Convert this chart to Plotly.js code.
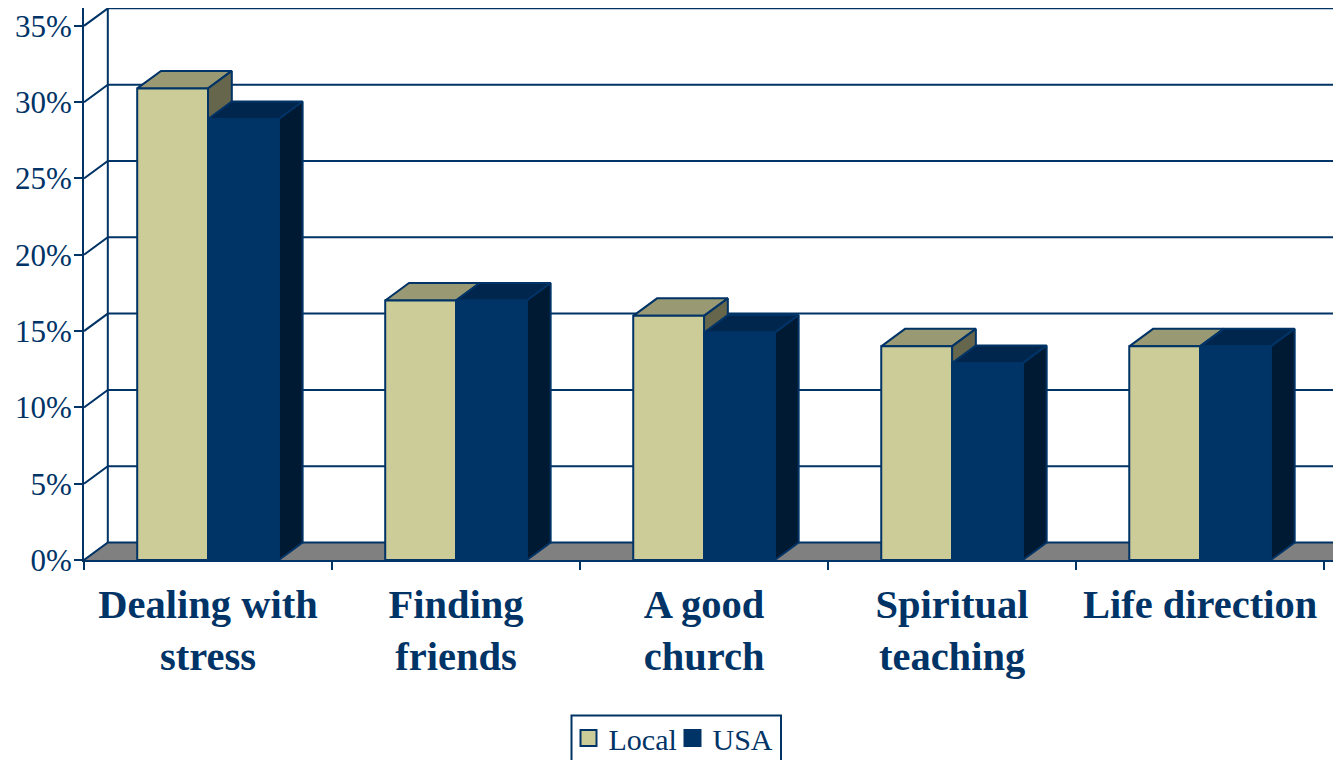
<!DOCTYPE html>
<html>
<head>
<meta charset="utf-8">
<script src="https://cdn.plot.ly/plotly-3.0.1.min.js"></script>
<style>html,body{margin:0;padding:0;background:#fff;overflow:hidden}</style>
</head>
<body>
<div id="chart" style="width:1333px;height:760px"></div>
<script>
var categories = ["Dealing with<br>stress", "Finding<br>friends", "A good<br>church", "Spiritual<br>teaching", "Life direction"];
var local = [30.9, 17, 16, 14, 14];
var usa = [28.9, 17, 14.9, 12.9, 14];
var yTicks = [0, 5, 10, 15, 20, 25, 30, 35];
var yLabels = ["0%", "5%", "10%", "15%", "20%", "25%", "30%", "35%"];

var INK = "#003366";
var barW = 0.2855, dx = 0.096, dy = 1.147;
var xMin = -0.5, xMax = 4.536, yMax = 36.17;
var plotLeft = 84, plotW = 1249, plotTop = 8, plotH = 552;
function paperX(px) { return (px - plotLeft) / plotW; }
function paperY(px) { return (plotTop + plotH - px) / plotH; }
var indices = categories.map(function (_, i) { return i; });
var boundaries = categories.map(function (_, i) { return i - 0.5; }).concat([categories.length - 0.5]);

function poly(pointsFor, values) {
  var x = [], y = [];
  values.forEach(function (v, i) {
    pointsFor(v, i).forEach(function (p) { x.push(p[0]); y.push(p[1]); });
    x.push(null); y.push(null);
  });
  return { x: x, y: y };
}
function topFace(offset) {
  return function (v, i) {
    var a = i + offset, b = a + barW;
    return [[a, v], [a + dx, v + dy], [b + dx, v + dy], [b, v], [a, v]];
  };
}
function sideFace(offset) {
  return function (v, i) {
    var b = i + offset + barW;
    return [[b, 0], [b + dx, dy], [b + dx, v + dy], [b, v], [b, 0]];
  };
}
function filled(shape, fill) {
  return { type: "scatter", mode: "lines", x: shape.x, y: shape.y, fill: "toself", fillcolor: fill,
    line: { color: INK, width: 2 }, showlegend: false, hoverinfo: "skip" };
}

var wallX = [], wallY = [];
yTicks.forEach(function (t) {
  wallX.push(xMin, xMin + dx, xMax + 1, null);
  wallY.push(t, t + dy, t + dy, null);
});
wallX.push(xMin + dx, xMin + dx);
wallY.push(dy, yTicks[yTicks.length - 1] + dy);

var traces = [
  { type: "scatter", mode: "lines", x: [xMin, xMin + dx, xMax + 1, xMax + 1, xMin], y: [0, dy, dy, 0, 0],
    fill: "toself", fillcolor: "#808080", line: { width: 0 }, showlegend: false, hoverinfo: "skip" },
  { type: "scatter", mode: "lines", x: wallX, y: wallY, line: { color: INK, width: 2 }, showlegend: false, hoverinfo: "skip" },
  filled(poly(topFace(-barW), local), "#999973"),
  filled(poly(sideFace(-barW), local), "#66664D"),
  filled(poly(topFace(0), usa), "#00264D"),
  filled(poly(sideFace(0), usa), "#001A33"),
  { type: "scatter", mode: "markers", name: "Local", x: indices.map(function (i) { return i - barW / 2; }),
    y: local.map(function (v) { return v / 2; }), marker: { symbol: "square", size: 16, color: "#CCCC99", line: { color: INK, width: 2 } }, hoverinfo: "skip" },
  { type: "scatter", mode: "markers", name: "USA", x: indices.map(function (i) { return i + barW / 2; }),
    y: usa.map(function (v) { return v / 2; }), marker: { symbol: "square", size: 16, color: INK, line: { color: INK, width: 2 } }, hoverinfo: "skip" },
  { type: "bar", xaxis: "x2", yaxis: "y2", x: indices, y: local, marker: { color: "#CCCC99", line: { color: INK, width: 2 } }, showlegend: false, hoverinfo: "skip" },
  { type: "bar", xaxis: "x2", yaxis: "y2", x: indices, y: usa, marker: { color: INK, line: { color: INK, width: 2 } }, showlegend: false, hoverinfo: "skip" }
];

var layout = {
  width: 1333, height: 760,
  paper_bgcolor: "#fff", plot_bgcolor: "#fff",
  margin: { l: plotLeft, r: 0, t: plotTop, b: 760 - plotTop - plotH, pad: 0, autoexpand: false },
  font: { family: "Liberation Serif, serif", color: INK },
  barmode: "group", bargap: 1 - 2 * barW, bargroupgap: 0,
  xaxis: {
    type: "linear", range: [xMin, xMax], showgrid: false, zeroline: false, fixedrange: true,
    showline: true, linecolor: INK, linewidth: 2,
    tickmode: "array", tickvals: indices, ticktext: categories, ticks: "", ticklabelstandoff: 7,
    tickfont: { size: 40.5, family: "Liberation Serif, serif", weight: "bold", color: INK },
    minor: { tickmode: "array", tickvals: boundaries, ticks: "outside", ticklen: 8, tickwidth: 2, tickcolor: INK, showgrid: false }
  },
  yaxis: {
    type: "linear", range: [0, yMax], showgrid: false, zeroline: false, fixedrange: true,
    showline: true, linecolor: INK, linewidth: 2,
    tickmode: "array", tickvals: yTicks, ticktext: yLabels, ticks: "outside", ticklen: 8, tickwidth: 2, tickcolor: INK,
    ticklabelstandoff: -4,
    tickfont: { size: 31, family: "Liberation Serif, serif", color: INK }
  },
  xaxis2: { overlaying: "x", anchor: "y2", range: [xMin, xMax], visible: false, fixedrange: true },
  yaxis2: { overlaying: "y", anchor: "x2", range: [0, yMax], visible: false, fixedrange: true },
  showlegend: true,
  legend: {
    orientation: "h", x: paperX(568.5), xanchor: "left", y: paperY(712), yanchor: "top",
    bgcolor: "rgba(0,0,0,0)", borderwidth: 0, entrywidth: 59, entrywidthmode: "pixels",
    font: { size: 30, family: "Liberation Serif, serif", color: INK }
  },
  shapes: [{ type: "rect", xref: "paper", yref: "paper", x0: paperX(571.5), x1: paperX(781), y0: paperY(715.5), y1: paperY(775),
    line: { color: INK, width: 2 }, fillcolor: "#fff", layer: "below" }]
};
Plotly.newPlot("chart", traces, layout, { displayModeBar: false, staticPlot: true });
</script>
</body>
</html>
